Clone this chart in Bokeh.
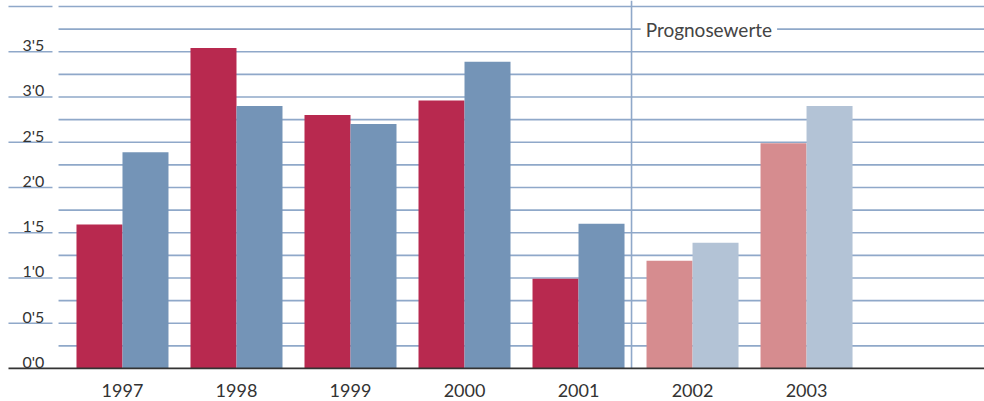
from bokeh.plotting import figure
from bokeh.models import Range1d, Label, ColumnDataSource
from bokeh.core.properties import value
from bokeh.embed import file_html
from bokeh.resources import INLINE

years = ["1997", "1998", "1999", "2000", "2001", "2002", "2003"]
series_a = [1.59, 3.54, 2.80, 2.96, 0.99, 1.19, 2.49]
series_b = [2.39, 2.90, 2.70, 3.39, 1.60, 1.39, 2.90]
forecast = [False, False, False, False, False, True, True]
y_label_values = [0.0, 0.5, 1.0, 1.5, 2.0, 2.5, 3.0, 3.5]
y_label_texts = ["0'0", "0'5", "1'0", "1'5", "2'0", "2'5", "3'0", "3'5"]
grid_values = [0.25 * k for k in range(1, 17)]
short_tick_values = [0.5 * k for k in range(1, 9)]
forecast_start = 4.465
forecast_label = "Prognosewerte"

RED, BLUE = "#b8294f", "#7494b7"
RED_L, BLUE_L = "#d68c8f", "#b3c3d6"
GRID = "#8fa8c9"
TXT = "#333333"
FONT = "Lato"

PX = 114.0  # px per category
bar_w = 46.0 / PX

p = figure(width=984, height=401, output_backend="svg", toolbar_location=None,
           x_range=Range1d(-1.070, 7.561), y_range=Range1d(-0.365, 4.066),
           min_border=0, outline_line_color=None)
p.axis.visible = False
p.grid.visible = False
p.background_fill_color = "white"
p.border_fill_color = "white"

idx = list(range(len(years)))

# grid lines inside plot area
p.segment(x0=[-0.561] * len(grid_values), x1=[7.561] * len(grid_values),
          y0=grid_values, y1=grid_values, line_color=GRID, line_width=1.6)
# short lines beside labels
p.segment(x0=[-1.0] * len(short_tick_values), x1=[-0.614] * len(short_tick_values),
          y0=short_tick_values, y1=short_tick_values, line_color=GRID, line_width=1.6)

# forecast separator
p.segment(x0=[forecast_start], x1=[forecast_start], y0=[0], y1=[4.066],
          line_color=GRID, line_width=1.6)

colors_a = [RED_L if f else RED for f in forecast]
colors_b = [BLUE_L if f else BLUE for f in forecast]
src = ColumnDataSource(dict(xa=[i - bar_w / 2 for i in idx], xb=[i + bar_w / 2 for i in idx],
                            a=series_a, b=series_b, ca=colors_a, cb=colors_b))
p.vbar(x="xa", top="a", bottom=0, width=bar_w, fill_color="ca", line_color=None, source=src)
p.vbar(x="xb", top="b", bottom=0, width=bar_w, fill_color="cb", line_color=None, source=src)

# baseline axis
p.segment(x0=[-1.0], x1=[7.561], y0=[0], y1=[0], line_color=TXT, line_width=1.8)

# y labels
p.text(x=[-0.685] * len(y_label_values), y=y_label_values, text=y_label_texts,
       text_align="right", text_baseline="alphabetic", y_offset=-7,
       text_font=value(FONT), text_font_size="16px", text_color=TXT)

# year labels
p.text(x=idx, y=[0] * len(idx), text=years, text_align="center",
       text_baseline="alphabetic", y_offset=22,
       text_font=value(FONT), text_font_size="18px", text_color=TXT)

lab = Label(x=4.545, y=3.75, text=forecast_label, text_baseline="middle", text_align="left",
            text_font=FONT, text_font_size="19px", text_color="#444444",
            background_fill_color="white", padding=5)
p.add_layout(lab)

open("out.html", "w").write(file_html(p, INLINE))
